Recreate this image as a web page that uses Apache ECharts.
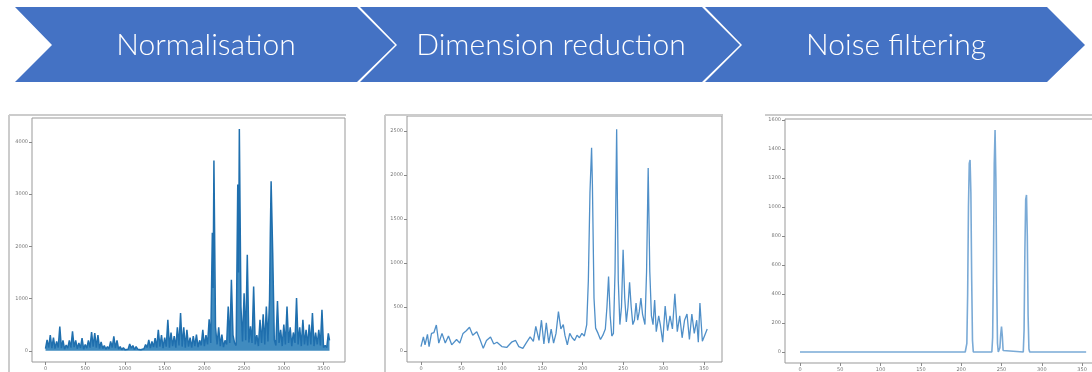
<!DOCTYPE html>
<html>
<head>
<meta charset="utf-8">
<script src="https://cdn.jsdelivr.net/npm/echarts@6/dist/echarts.min.js"></script>
<style>
  html, body { margin: 0; padding: 0; background: #fff; }
  #chart { width: 1092px; height: 372px; }
</style>
</head>
<body>
<div id="chart"></div>
<script>
// step labels in the chevrons
var steps = ['Normalisation', 'Dimension reduction', 'Noise filtering'];

// tick labels
var normXTicks = [0, 500, 1000, 1500, 2000, 2500, 3000, 3500];
var normYTicks = [0, 1000, 2000, 3000, 4000];
var dimXTicks = [0, 50, 100, 150, 200, 250, 300, 350];
var dimYTicks = [0, 500, 1000, 1500, 2000, 2500];
var noiseXTicks = [0, 50, 100, 150, 200, 250, 300, 350];
var noiseYTicks = [0, 200, 400, 600, 800, 1000, 1200, 1400, 1600];

// normalised spectrum (low/high pairs of the dense band)
var normPoints = [
  [0,40],[20,210],[40,60],[60,300],[80,50],[100,250],[120,40],[140,180],[160,60],[180,465],
  [200,50],[220,200],[240,30],[260,110],[280,50],[300,200],[320,60],[340,370],[360,70],[380,200],
  [400,40],[420,150],[440,50],[460,240],[480,30],[500,120],[520,50],[540,200],[560,60],[580,360],
  [600,80],[620,340],[640,60],[660,300],[680,40],[700,170],[720,40],[740,100],[760,30],[780,80],
  [800,40],[820,180],[840,60],[860,275],[880,50],[900,200],[920,30],[940,80],[960,20],[980,60],
  [1000,20],[1020,40],[1040,30],[1060,130],[1080,50],[1100,100],[1120,20],[1140,80],[1160,30],[1180,60],
  [1200,20],[1220,40],[1240,40],[1260,120],[1280,60],[1300,210],[1320,50],[1340,180],[1360,70],[1380,240],
  [1400,60],[1420,400],[1440,80],[1460,300],[1480,50],[1500,250],[1520,80],[1540,595],[1560,60],[1580,350],
  [1600,90],[1620,280],[1640,60],[1660,450],[1680,100],[1700,720],[1720,80],[1740,450],[1760,60],[1780,400],
  [1800,80],[1820,250],[1840,60],[1860,280],[1880,90],[1900,310],[1920,70],[1940,200],[1960,100],[1980,400],
  [2000,90],[2020,300],[2040,120],[2060,600],[2080,150],[2100,2260],[2110,1200],[2120,3640],[2140,450],[2160,120],
  [2180,450],[2200,90],[2220,310],[2240,70],[2260,200],[2280,120],[2300,848],[2320,150],[2340,1360],[2360,300],
  [2380,150],[2400,100],[2420,3180],[2430,1500],[2440,4243],[2460,848],[2480,180],[2500,1100],[2520,200],[2540,1837],
  [2560,160],[2580,467],[2600,150],[2620,1232],[2640,120],[2660,300],[2680,90],[2700,594],[2720,150],[2740,700],
  [2760,120],[2780,848],[2800,180],[2820,975],[2830,2250],[2840,3243],[2860,1870],[2880,210],[2900,100],[2920,950],
  [2940,150],[2960,400],[2980,90],[3000,500],[3020,120],[3040,848],[3060,150],[3080,450],[3100,90],[3120,350],
  [3140,150],[3160,1010],[3180,120],[3200,450],[3220,90],[3240,594],[3260,120],[3280,400],[3300,100],[3320,500],
  [3340,120],[3360,720],[3380,90],[3400,350],[3420,120],[3440,400],[3460,100],[3480,785],[3500,60],[3520,100],
  [3540,60],[3560,335],[3575,200]
];

// after dimension reduction
var dimPoints = [
  [0,50],[3,160],[5,70],[8,190],[10,50],[13,200],[16,210],[19,295],[22,90],[26,200],
  [30,90],[34,170],[38,70],[44,130],[48,90],[52,200],[56,230],[60,270],[64,180],[69,220],
  [73,130],[77,30],[81,120],[86,160],[90,80],[94,100],[100,50],[106,40],[112,100],[117,120],
  [121,50],[126,30],[130,90],[135,160],[139,110],[142,280],[146,120],[149,350],[152,80],[155,320],
  [158,90],[161,250],[164,90],[167,200],[170,447],[173,250],[176,300],[178,180],[181,70],[184,200],
  [187,150],[190,120],[193,180],[196,150],[199,200],[202,170],[205,300],[207,800],[209,1800],[211,2310],
  [212,1900],[214,600],[216,260],[219,200],[222,130],[225,180],[228,250],[230,500],[232,845],[234,400],
  [236,170],[238,200],[240,900],[242,2520],[244,800],[246,300],[248,500],[250,1150],[252,600],[254,330],
  [256,500],[258,780],[260,500],[262,300],[264,350],[266,545],[268,350],[270,450],[272,600],[274,420],
  [277,300],[279,900],[281,2080],[283,900],[285,400],[287,300],[289,580],[291,220],[294,400],[296,300],
  [299,100],[302,510],[305,230],[308,400],[311,250],[314,650],[317,220],[320,400],[323,150],[326,350],
  [329,420],[332,130],[335,420],[338,200],[341,350],[343,100],[345,545],[348,110],[351,180],[354,250]
];

// after noise filtering
var noisePoints = [
  [0,0],[205,0],[207,60],[208,400],[209,1000],[210,1300],[211,1324],[212,1100],[213,500],[214,80],
  [215,0],[238,0],[239,100],[240,600],[241,1300],[242,1531],[243,1200],[244,500],[245,60],[246,0],
  [248,30],[249,120],[250,175],[251,110],[252,10],[253,0],[277,0],[278,150],[279,700],[280,1050],
  [281,1083],[282,800],[283,250],[284,20],[285,0],[355,0]
];

var chart = echarts.init(document.getElementById('chart'));

var labelStyle = { fontSize: 5, color: '#777', fontFamily: 'DejaVu Sans' };

function plain(v) { return String(v); }

function axis(idx, min, max, ticks) {
  return {
    type: 'value', gridIndex: idx, min: min, max: max,
    axisLine: { show: false, onZero: false },
    splitLine: { show: false },
    axisTick: { show: true, inside: false, customValues: ticks, length: 3, lineStyle: { color: '#888' } },
    axisLabel: Object.assign({ customValues: ticks, margin: 4, formatter: plain }, labelStyle)
  };
}

var boxStyle = { show: true, borderColor: '#999', borderWidth: 1, backgroundColor: '#fff', outerBoundsMode: 'none' };

function chevron(x0) {
  return [[x0, 7], [x0 + 342, 7], [x0 + 380, 45], [x0 + 342, 82], [x0, 82], [x0 + 37, 45]];
}

var graphics = [];
[15, 360, 705].forEach(function (x0, i) {
  graphics.push({ type: 'polygon', shape: { points: chevron(x0) }, style: { fill: '#4472C4' } });
  graphics.push({
    type: 'text', x: x0 + 191, y: 45,
    style: { text: steps[i], fill: '#fff', fontSize: 30, fontFamily: 'Lato', fontWeight: 300, align: 'center', verticalAlign: 'middle' }
  });
});
// screenshot frames
graphics.push({ type: 'line', shape: { x1: 9, y1: 115, x2: 346, y2: 115 }, style: { stroke: '#ccc', lineWidth: 2 } });
graphics.push({ type: 'line', shape: { x1: 9, y1: 115, x2: 9, y2: 372 }, style: { stroke: '#ccc', lineWidth: 2 } });
graphics.push({ type: 'line', shape: { x1: 385, y1: 115, x2: 723, y2: 115 }, style: { stroke: '#ccc', lineWidth: 2 } });
graphics.push({ type: 'line', shape: { x1: 385, y1: 115, x2: 385, y2: 372 }, style: { stroke: '#ccc', lineWidth: 2 } });
graphics.push({ type: 'line', shape: { x1: 765, y1: 115, x2: 1092, y2: 115 }, style: { stroke: '#ccc', lineWidth: 2 } });

var option = {
  animation: false,
  graphic: graphics,
  grid: [
    Object.assign({ left: 32, top: 118, width: 313, height: 244 }, boxStyle),
    Object.assign({ left: 407, top: 116, width: 315, height: 246 }, boxStyle),
    Object.assign({ left: 785, top: 119, width: 308, height: 244 }, boxStyle)
  ],
  xAxis: [
    axis(0, -170, 3770, normXTicks),
    axis(1, -17.3, 372.3, dimXTicks),
    axis(2, -18.6, 363.5, noiseXTicks)
  ],
  yAxis: [
    axis(0, -215, 4455, normYTicks),
    axis(1, -125, 2670, dimYTicks),
    axis(2, -76, 1607, noiseYTicks)
  ],
  series: [
    { type: 'line', xAxisIndex: 0, yAxisIndex: 0, data: normPoints, showSymbol: false,
      lineStyle: { color: '#1f6fae', width: 1.5 },
      areaStyle: { color: '#1f77b4', opacity: 0.85, origin: 'auto' } },
    { type: 'line', xAxisIndex: 1, yAxisIndex: 1, data: dimPoints, showSymbol: false,
      lineStyle: { color: '#4f8fc8', width: 1.3 } },
    { type: 'line', xAxisIndex: 2, yAxisIndex: 2, data: noisePoints, showSymbol: false,
      lineStyle: { color: '#7aaad6', width: 1.6 } }
  ]
};

chart.setOption(option);
</script>
</body>
</html>
